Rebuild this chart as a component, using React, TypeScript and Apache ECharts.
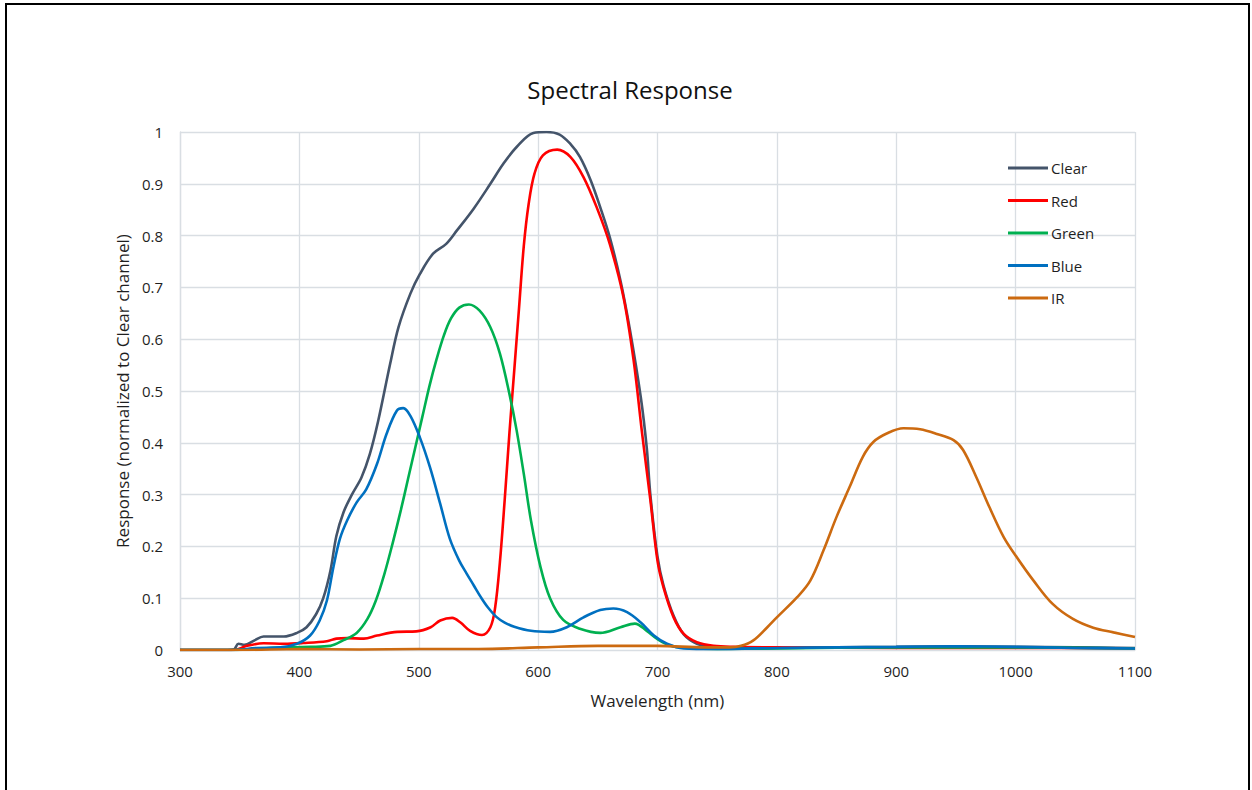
import React, { useEffect, useRef } from "react";
import * as echarts from "echarts";

const seriesNames = ["Clear", "Red", "Green", "Blue", "IR"];
const seriesColors = ["#44546a", "#ff0000", "#00b050", "#0070c0", "#cc6a10"];

const clearNm = [300, 340, 345, 349, 354, 362, 370, 387, 398, 406, 414, 420, 426, 431, 437, 444, 452, 459, 466, 476, 483, 493, 501, 512, 523, 532, 546, 560, 571, 582, 596, 607, 618, 627, 635, 644, 652, 660, 669, 677, 686, 691, 694, 700, 705, 713.5, 722, 733, 747, 765, 800, 850, 900, 950, 1000, 1050, 1100];
const clearVal = [0, 0, 0.001, 0.012, 0.010, 0.018, 0.026, 0.026, 0.033, 0.044, 0.069, 0.10, 0.153, 0.220, 0.266, 0.30, 0.333, 0.378, 0.442, 0.552, 0.623, 0.688, 0.726, 0.765, 0.784, 0.81, 0.852, 0.90, 0.939, 0.971, 0.998, 1.0, 0.995, 0.977, 0.952, 0.907, 0.855, 0.797, 0.713, 0.617, 0.488, 0.39, 0.30, 0.18, 0.125, 0.066, 0.03, 0.012, 0.004, 0.003, 0.004, 0.005, 0.006, 0.007, 0.006, 0.005, 0.004];

const redNm = [300, 345, 356, 370, 387, 403, 423, 431, 440, 454, 465, 482, 498, 510, 518, 528, 535, 543, 553, 560, 564, 568, 572, 576, 580, 584, 588, 592, 597, 604, 616, 627, 638, 649, 660, 671.5, 680, 687, 694, 700, 705, 713.5, 722, 733, 747, 764, 800, 900, 1000, 1100];
const redVal = [0, 0, 0.008, 0.013, 0.012, 0.0135, 0.017, 0.022, 0.023, 0.022, 0.028, 0.035, 0.036, 0.044, 0.057, 0.062, 0.053, 0.037, 0.029, 0.044, 0.082, 0.17, 0.29, 0.42, 0.54, 0.66, 0.78, 0.86, 0.92, 0.955, 0.966, 0.952, 0.913, 0.855, 0.784, 0.681, 0.559, 0.42, 0.29, 0.172, 0.121, 0.063, 0.031, 0.015, 0.008, 0.006, 0.005, 0.004, 0.004, 0.003];

const greenNm = [300, 345, 375, 409, 426, 437, 448, 457, 464, 471, 478, 485, 491, 497, 503, 509, 515, 521, 527, 534, 542, 551, 560, 568, 576, 582, 588, 594, 602, 610, 621, 635, 652, 669, 681, 691, 700, 711, 725, 750, 800, 900, 1000, 1100];
const greenVal = [0, 0, 0.004, 0.006, 0.008, 0.019, 0.033, 0.06, 0.095, 0.145, 0.205, 0.27, 0.33, 0.39, 0.45, 0.51, 0.562, 0.607, 0.64, 0.661, 0.667, 0.655, 0.623, 0.572, 0.494, 0.424, 0.34, 0.25, 0.16, 0.1, 0.058, 0.041, 0.033, 0.044, 0.051, 0.037, 0.021, 0.008, 0.004, 0.002, 0.003, 0.005, 0.005, 0.003];

const blueNm = [300, 345, 364, 384, 398, 409, 417, 423, 428.5, 434, 440, 448, 456, 465, 473, 481.6, 487, 493, 501, 509.5, 518, 526, 534, 540, 546, 552, 558, 565, 572, 580, 594, 610, 624, 638, 652, 663, 674.5, 686, 697, 708, 722, 747, 803, 850, 900, 950, 1000, 1050, 1100];
const blueVal = [0, 0, 0.004, 0.005, 0.012, 0.028, 0.057, 0.095, 0.16, 0.215, 0.25, 0.285, 0.31, 0.359, 0.417, 0.462, 0.467, 0.452, 0.41, 0.352, 0.282, 0.215, 0.172, 0.148, 0.125, 0.102, 0.082, 0.064, 0.053, 0.045, 0.037, 0.035, 0.044, 0.063, 0.077, 0.08, 0.073, 0.053, 0.028, 0.012, 0.003, 0.002, 0.004, 0.005, 0.006, 0.007, 0.006, 0.004, 0.003];

const irNm = [300, 350, 400, 450, 500, 550, 600, 650, 700, 740, 760, 770, 780, 792, 800, 817, 828, 839, 850, 861, 872, 881, 892, 906, 920, 934, 948, 956, 967, 978, 990, 1001, 1015, 1031, 1048, 1065, 1082, 1100];
const irVal = [0, 0, 0.002, 0.001, 0.002, 0.002, 0.005, 0.008, 0.008, 0.005, 0.005, 0.008, 0.018, 0.044, 0.063, 0.102, 0.134, 0.192, 0.257, 0.315, 0.373, 0.402, 0.418, 0.428, 0.426, 0.417, 0.405, 0.386, 0.334, 0.276, 0.218, 0.179, 0.134, 0.089, 0.06, 0.043, 0.034, 0.025];

const xTicks = [300, 400, 500, 600, 700, 800, 900, 1000, 1100];
const yTickLabels = ["0", "0.1", "0.2", "0.3", "0.4", "0.5", "0.6", "0.7", "0.8", "0.9", "1"];

const FONT = "'Open Sans', 'Noto Sans', sans-serif";
const GRID = "#d9dee3";

function pairs(xs: number[], ys: number[]) {
  return xs.map((x, i) => [x, ys[i]]);
}

export default function App() {
  const ref = useRef<HTMLDivElement>(null);
  useEffect(() => {
    if (!ref.current) return;
    const chart = echarts.init(ref.current, undefined, { renderer: "svg" });
    const allX = [clearNm, redNm, greenNm, blueNm, irNm];
    const allY = [clearVal, redVal, greenVal, blueVal, irVal];
    chart.setOption({
      animation: false,
      backgroundColor: "#ffffff",
      title: {
        text: "Spectral Response",
        left: 625,
        textAlign: "center",
        top: 72,
        textStyle: { fontFamily: FONT, fontSize: 24, fontWeight: "normal", color: "#111111" },
      },
      graphic: [
        {
          type: "rect",
          shape: { x: 6, y: 4, width: 1243, height: 820 },
          style: { fill: "none", stroke: "#000000", lineWidth: 2 },
          z: 100,
        },
      ],
      legend: {
        orient: "vertical",
        left: 1008,
        top: 160,
        padding: 0,
        icon: "rect",
        itemWidth: 40,
        itemHeight: 3,
        itemGap: 16.5,
        data: seriesNames,
        textStyle: { fontFamily: FONT, fontSize: 15, lineHeight: 16, color: "#1f1f1f", padding: [0, 0, 0, -2] },
      },
      grid: { left: 180, right: 117, top: 132, bottom: 140, containLabel: false },
      xAxis: {
        type: "value",
        min: xTicks[0],
        max: xTicks[xTicks.length - 1],
        interval: 100,
        name: "Wavelength (nm)",
        nameLocation: "middle",
        nameGap: 42,
        nameTextStyle: { fontFamily: FONT, fontSize: 17, color: "#1f1f1f" },
        axisLine: { show: true, lineStyle: { color: GRID, width: 1 } },
        axisTick: { show: false },
        axisLabel: { fontFamily: FONT, fontSize: 15, color: "#1f1f1f", margin: 13, formatter: (v: number) => String(v) },
        splitLine: { show: true, lineStyle: { color: GRID, width: 1.3 } },
      },
      yAxis: {
        type: "value",
        min: 0,
        max: 1,
        interval: 0.1,
        name: "Response (normalized to Clear channel)",
        nameLocation: "middle",
        nameGap: 46,
        nameRotate: 90,
        nameTextStyle: { fontFamily: FONT, fontSize: 17, color: "#1f1f1f" },
        axisLine: { show: true, lineStyle: { color: GRID, width: 1.3 } },
        axisTick: { show: false },
        axisLabel: {
          fontFamily: FONT,
          fontSize: 15,
          color: "#1f1f1f",
          margin: 17,
          formatter: (v: number) => yTickLabels[Math.round(v * 10)],
        },
        splitLine: { show: true, lineStyle: { color: GRID, width: 1.3 } },
      },
      series: seriesNames.map((name, i) => ({
        name,
        type: "line",
        data: pairs(allX[i], allY[i]),
        smooth: 0.35,
        symbol: "none",
        color: seriesColors[i],
        lineStyle: { color: seriesColors[i], width: 2.6 },
        z: 2 + i,
      })),
    });
    return () => chart.dispose();
  }, []);
  return (
    <div
      ref={ref}
      style={{ position: "fixed", left: 0, top: 0, width: 1252, height: 790, background: "#fff" }}
    />
  );
}
